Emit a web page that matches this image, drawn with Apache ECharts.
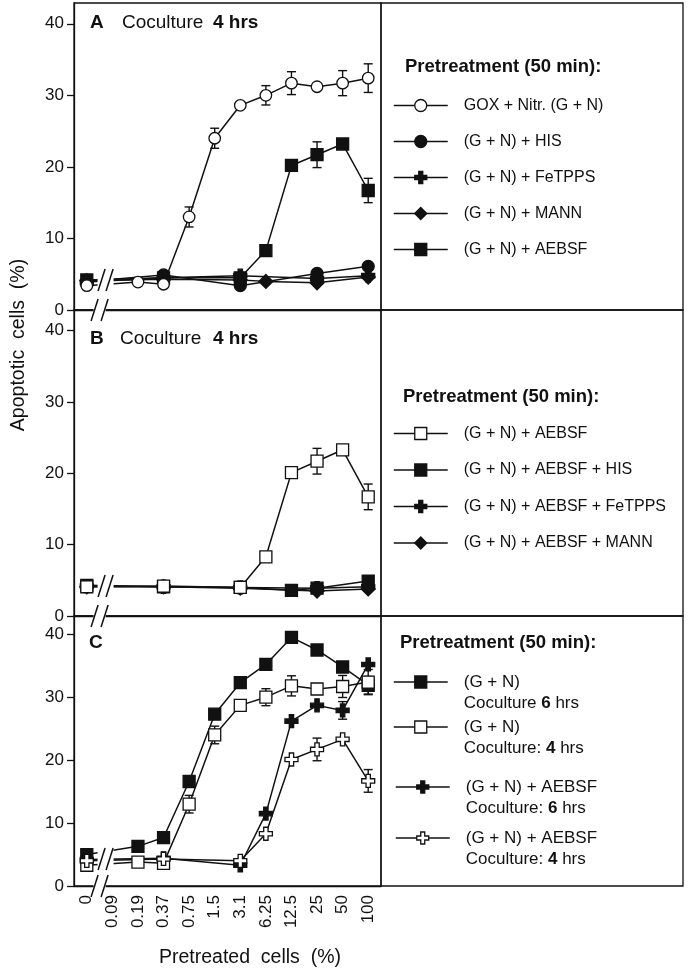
<!DOCTYPE html>
<html><head><meta charset="utf-8">
<script src="https://cdn.jsdelivr.net/npm/echarts@6/dist/echarts.min.js"></script>
<style>html,body{margin:0;padding:0;background:#fff}#c{width:688px;height:970px}</style>
</head><body><div id="c"></div>
<script>
// ---------- data ----------
const categories = ['0','0.09','0.19','0.37','0.75','1.5','3.1','6.25','12.5','25','50','100'];
const yTicks = [0, 10, 20, 30, 40];

// Panel A
const aGox      = [3.4, null, 3.9, 3.6, 13.0, 24.0, 28.6, 30.0, 31.7, 31.2, 31.7, 32.4];
const aGoxErr   = [null, null, null, null, 1.4, 1.4, null, 1.35, 1.6, null, 1.75, 2.0];
const aHis      = [4.0, null, null, 4.9, null, null, 3.4, null, null, 5.1, null, 6.1];
const aFetpps   = [3.9, null, null, 4.5, null, null, 4.8, null, null, 4.4, null, 4.8];
const aMann     = [4.1, null, null, 4.3, null, null, 4.2, 4.0, null, 3.8, null, 4.6];
const aAebsf    = [4.2, null, null, 4.5, null, null, 4.5, 8.3, 20.2, 21.7, 23.2, 16.7];
const aAebsfErr = [null, null, null, null, null, null, null, null, null, 1.8, null, 1.7];

// Panel B
const bAebsf    = [4.1, null, null, 4.2, null, null, 4.0, 8.3, 20.1, 21.7, 23.3, 16.7];
const bAebsfErr = [null, null, null, null, null, null, null, null, null, 1.8, null, 1.8];
const bHis      = [4.3, null, null, 4.1, null, null, 4.0, null, 3.6, 3.9, null, 4.9];
const bFetpps   = [4.2, null, null, 4.1, null, null, 4.0, null, null, 3.9, null, 4.1];
const bMann     = [4.1, null, null, 4.1, null, null, 3.9, null, null, 3.5, null, 3.8];

// Panel C
const cGn6      = [5.0, null, 6.3, 7.7, 16.6, 27.3, 32.3, 35.2, 39.5, 37.5, 34.8, 31.9];
const cGn6Err   = [null, null, null, null, null, null, null, null, null, null, null, 1.4];
const cGn4      = [3.3, null, 3.8, 3.6, 13.0, 24.0, 28.7, 30.0, 31.8, 31.3, 31.7, 32.4];
const cGn4Err   = [null, null, null, null, 1.4, 1.4, null, 1.35, 1.6, null, 1.75, 2.0];
const cAe6      = [4.2, null, null, 4.4, null, null, 3.3, 11.5, 26.2, 28.7, 27.9, 35.2];
const cAe6Err   = [null, null, null, null, null, null, null, null, null, null, 1.4, null];
const cAe4      = [4.0, null, null, 4.3, null, null, 4.0, 8.3, 20.1, 21.7, 23.3, 16.7];
const cAe4Err   = [null, null, null, null, null, null, null, null, null, 1.8, null, 1.8];

// legend texts
const legendTextA = {
  A1: 'GOX + Nitr. (G + N)', A2: '(G + N) + HIS', A3: '(G + N) + FeTPPS',
  A4: '(G + N) + MANN', A5: '(G + N) + AEBSF'
};
const legendTextB = {
  B1: '(G + N) + AEBSF', B2: '(G + N) + AEBSF + HIS',
  B3: '(G + N) + AEBSF + FeTPPS', B4: '(G + N) + AEBSF + MANN'
};
const legendTextC = {
  C1: '(G + N)\nCoculture {b|6} hrs', C2: '(G + N)\nCoculture: {b|4} hrs',
  C3: '(G + N) + AEBSF\nCoculture: {b|6} hrs', C4: '(G + N) + AEBSF\nCoculture: {b|4} hrs'
};

// ---------- styling ----------
const FONT = "'Liberation Sans', Arial, Helvetica, sans-serif";
const INK = '#111';
const CROSS = 'path://M1,0H2V1H3V2H2V3H1V2H0V1H1Z';
const LW = 1.5;

const grids = [
  {left: 74, top: 3, width: 307, height: 307},
  {left: 74, top: 310, width: 307, height: 306},
  {left: 74, top: 616, width: 307, height: 270}
];

function lineSeries(name, data, gi, symbol, filled, size) {
  return {
    type: 'line', name, xAxisIndex: gi, yAxisIndex: gi, data,
    connectNulls: true, symbol, symbolSize: size, showAllSymbol: true,
    lineStyle: {color: INK, width: LW},
    itemStyle: {color: filled ? INK : '#fff', borderColor: INK, borderWidth: 1.3},
    emphasis: {disabled: true}, z: 3, animation: false
  };
}
function errSeries(data, err, gi) {
  const d = [];
  data.forEach((v, i) => { if (v != null && err[i] != null) d.push([i, v - err[i], v + err[i]]); });
  return {
    type: 'custom', xAxisIndex: gi, yAxisIndex: gi, data: d, z: 2, silent: true, animation: false,
    encode: {x: 0, y: [1, 2]},
    renderItem: (params, api) => {
      const lo = api.coord([api.value(0), api.value(1)]);
      const hi = api.coord([api.value(0), api.value(2)]);
      const hw = 4.5;
      const st = {stroke: INK, lineWidth: 1.4};
      return {type: 'group', children: [
        {type: 'line', shape: {x1: lo[0], y1: lo[1], x2: hi[0], y2: hi[1]}, style: st},
        {type: 'line', shape: {x1: lo[0] - hw, y1: lo[1], x2: lo[0] + hw, y2: lo[1]}, style: st},
        {type: 'line', shape: {x1: hi[0] - hw, y1: hi[1], x2: hi[0] + hw, y2: hi[1]}, style: st}
      ]};
    }
  };
}

const xAxes = grids.map((g, gi) => ({
  type: 'category', gridIndex: gi, data: categories, boundaryGap: true,
  axisLine: {lineStyle: {color: INK, width: 1.3}},
  axisTick: {alignWithLabel: true, interval: 0, length: 7, lineStyle: {color: INK, width: 1.3}},
  axisLabel: {show: gi === 2, interval: 0, rotate: 90, fontSize: 17, fontFamily: FONT, color: INK, margin: 9},
  splitLine: {show: false}
}));
const yAxes = grids.map((g, gi) => ({
  type: 'value', gridIndex: gi, min: 0, max: 42.9, interval: 10,
  axisLine: {show: true, lineStyle: {color: INK, width: 1.3}},
  axisTick: {show: true, length: 7, customValues: yTicks, lineStyle: {color: INK, width: 1.3}},
  axisLabel: {customValues: yTicks, fontSize: 17, fontFamily: FONT, color: INK, margin: 10},
  splitLine: {show: false}
}));

const series = [
  // A
  errSeries(aGox, aGoxErr, 0), errSeries(aAebsf, aAebsfErr, 0),
  lineSeries('A2', aHis, 0, 'circle', true, 12),
  lineSeries('A3', aFetpps, 0, CROSS, true, 13),
  lineSeries('A4', aMann, 0, 'diamond', true, 14),
  lineSeries('A5', aAebsf, 0, 'rect', true, 12),
  lineSeries('A1', aGox, 0, 'circle', false, 11.5),
  // B
  errSeries(bAebsf, bAebsfErr, 1),
  lineSeries('B2', bHis, 1, 'rect', true, 12),
  lineSeries('B3', bFetpps, 1, CROSS, true, 13),
  lineSeries('B4', bMann, 1, 'diamond', true, 14),
  lineSeries('B1', bAebsf, 1, 'rect', false, 12),
  // C
  errSeries(cGn6, cGn6Err, 2), errSeries(cGn4, cGn4Err, 2),
  errSeries(cAe6, cAe6Err, 2), errSeries(cAe4, cAe4Err, 2),
  lineSeries('C1', cGn6, 2, 'rect', true, 12),
  lineSeries('C3', cAe6, 2, CROSS, true, 13),
  lineSeries('C2', cGn4, 2, 'rect', false, 12),
  lineSeries('C4', cAe4, 2, CROSS, false, 13)
];

const IH = 15;
const legendBase = {
  orient: 'vertical', itemWidth: 54, itemHeight: IH, padding: 0, selectedMode: false,
  lineStyle: {width: LW}, itemStyle: {borderWidth: 1.3},
  textStyle: {fontSize: 16, fontFamily: FONT, color: INK, lineHeight: IH, padding: [0, 0, 0, 11]}
};
const legends = [
  Object.assign({}, legendBase, {left: 393, top: 105 - IH / 2, itemGap: 35 - IH, data: ['A1','A2','A3','A4','A5'],
    formatter: n => legendTextA[n]}),
  Object.assign({}, legendBase, {left: 393, top: 433 - IH / 2, itemGap: 35.5 - IH, data: ['B1','B2','B3','B4'],
    formatter: n => legendTextB[n]})
];
const cIconY = [682, 727, 787, 838];
const cLeft = [393, 393, 395, 395];
const CLH = 21.5;
['C1','C2','C3','C4'].forEach((n, k) => {
  legends.push(Object.assign({}, legendBase, {
    left: cLeft[k], top: cIconY[k] - 1.5 * CLH, data: [n], formatter: m => legendTextC[m],
    textStyle: {fontSize: 17, fontFamily: FONT, color: INK, lineHeight: CLH, padding: [CLH, 0, 0, 11],
      rich: {b: {fontWeight: 'bold', fontSize: 17, fontFamily: FONT, color: INK, lineHeight: CLH}}}
  }));
});

function txt(x, y, text, size, bold) {
  return {type: 'text', x, y, z: 100, style: {
    text, fontSize: size, fontFamily: FONT, fontWeight: bold ? 'bold' : 'normal',
    fill: INK, verticalAlign: 'middle', align: 'left'}};
}
const staticGraphics = [
  {type: 'rect', z: 50, shape: {x: 381, y: 3, width: 302, height: 307}, style: {fill: null, stroke: INK, lineWidth: 1.3}},
  {type: 'rect', z: 50, shape: {x: 381, y: 310, width: 302, height: 306}, style: {fill: null, stroke: INK, lineWidth: 1.3}},
  {type: 'rect', z: 50, shape: {x: 381, y: 616, width: 302, height: 270}, style: {fill: null, stroke: INK, lineWidth: 1.3}},
  txt(405, 67, 'Pretreatment (50 min):', 18.5, true),
  txt(403, 397, 'Pretreatment (50 min):', 18.5, true),
  txt(400, 643, 'Pretreatment (50 min):', 18.5, true),
  txt(90, 23, 'A', 19, true), txt(122, 23, 'Coculture', 19, false), txt(213, 23, '4 hrs', 19, true),
  txt(90, 339, 'B', 19, true), txt(120, 339, 'Coculture', 19, false), txt(213, 339, '4 hrs', 19, true),
  txt(89, 643, 'C', 19, true),
  {type: 'text', z: 100, x: 19, y: 345, rotation: Math.PI / 2, style: {
    text: 'Apoptotic  cells  (%)', fontSize: 19.5, fontFamily: FONT, fill: INK, align: 'center', verticalAlign: 'middle'}},
  {type: 'text', z: 100, x: 250, y: 958, style: {
    text: 'Pretreated  cells  (%)', fontSize: 19.5, fontFamily: FONT, fill: INK, align: 'center', verticalAlign: 'middle'}}
];

const chart = echarts.init(document.getElementById('c'), null, {renderer: 'canvas'});
chart.setOption({
  animation: false, backgroundColor: '#fff',
  grid: grids.map(g => Object.assign({show: true, borderColor: INK, borderWidth: 1.3, containLabel: false, outerBoundsMode: 'none'}, g)),
  xAxis: xAxes, yAxis: yAxes, legend: legends, series,
  graphic: {elements: staticGraphics}
});

// axis-break marks ("//") located through the axes' own scales
const breakEls = [];
const dataBreakY = [4.2, 4.2, 4.3];
grids.forEach((g, gi) => {
  const p0 = chart.convertToPixel({gridIndex: gi}, [0, 0]);
  const p1 = chart.convertToPixel({gridIndex: gi}, [1, 0]);
  const mid = (p0[0] + p1[0]) / 2;
  const ay = p0[1];
  const slash = (cx, cy) => ({type: 'line', z: 102, shape: {x1: cx - 3.5, y1: cy + 11, x2: cx + 3.5, y2: cy - 11},
    style: {stroke: INK, lineWidth: 1.5}});
  breakEls.push({type: 'rect', z: 101, shape: {x: mid - 6, y: ay - 2.5, width: 12, height: 5}, style: {fill: '#fff'}});
  breakEls.push(slash(mid - 5, ay), slash(mid + 5, ay));
  const dy = chart.convertToPixel({gridIndex: gi}, [0, dataBreakY[gi]])[1];
  const dx = mid + 6;
  breakEls.push({type: 'rect', z: 101, shape: {x: dx - 8, y: dy - 12, width: 16, height: 24}, style: {fill: '#fff'}});
  breakEls.push(slash(dx - 4, dy), slash(dx + 4, dy));
});
chart.setOption({graphic: {elements: staticGraphics.concat(breakEls)}}, {replaceMerge: ['graphic']});
</script></body></html>
